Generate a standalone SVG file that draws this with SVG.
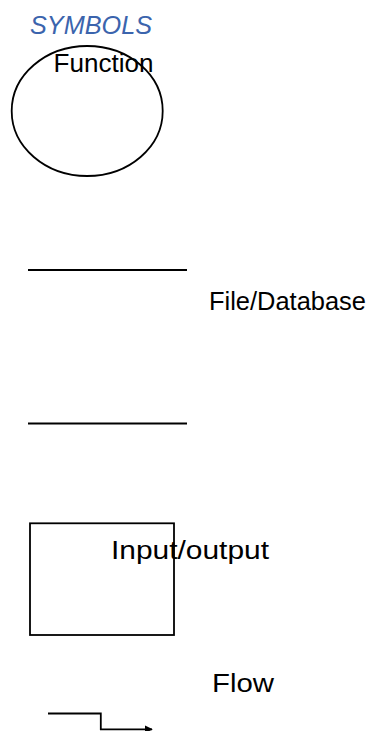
<svg xmlns="http://www.w3.org/2000/svg" width="374" height="731" viewBox="0 0 374 731">
  <style>
    .shape { fill: none; stroke: #000; stroke-width: 1.8; }
    .rule { stroke: #000; stroke-width: 2.2; }
    .label { font-family: "Liberation Sans", Arial, sans-serif; font-size: 26px; fill: #000; }
    .title { font-family: "Liberation Sans", Arial, sans-serif; font-size: 25px; font-style: italic; fill: #3B64AD; }
  </style>
  <defs>
    <marker id="arrow" viewBox="0 0 10 10" refX="9" refY="5" markerWidth="4.5" markerHeight="4.5" orient="auto" markerUnits="strokeWidth">
      <path d="M0,0 L10,5 L0,10 Z" fill="#000"/>
    </marker>
  </defs>

  <rect width="374" height="731" fill="#fff"/>

  <text class="title" x="30" y="34" textLength="122" lengthAdjust="spacingAndGlyphs">SYMBOLS</text>

  <g id="function">
    <ellipse class="shape" cx="87.2" cy="111" rx="75.5" ry="65"/>
    <text class="label" x="53.5" y="72" textLength="100" lengthAdjust="spacingAndGlyphs">Function</text>
  </g>

  <g id="file-database">
    <line class="rule" x1="28" y1="270" x2="187" y2="270"/>
    <line class="rule" x1="28" y1="423.5" x2="187" y2="423.5"/>
    <text class="label" x="209" y="310" textLength="157" lengthAdjust="spacingAndGlyphs">File/Database</text>
  </g>

  <g id="input-output">
    <rect class="shape" x="30" y="523.3" width="144" height="111.7"/>
    <text class="label" x="111" y="559" textLength="158" lengthAdjust="spacingAndGlyphs">Input/output</text>
  </g>

  <g id="flow">
    <text class="label" x="212" y="691.7" textLength="62" lengthAdjust="spacingAndGlyphs">Flow</text>
  </g>

  <g id="connectors">
    <path class="shape" d="M48,713.5 H100.8 V729.3 H152" stroke-width="2.2" marker-end="url(#arrow)"/>
  </g>
</svg>
